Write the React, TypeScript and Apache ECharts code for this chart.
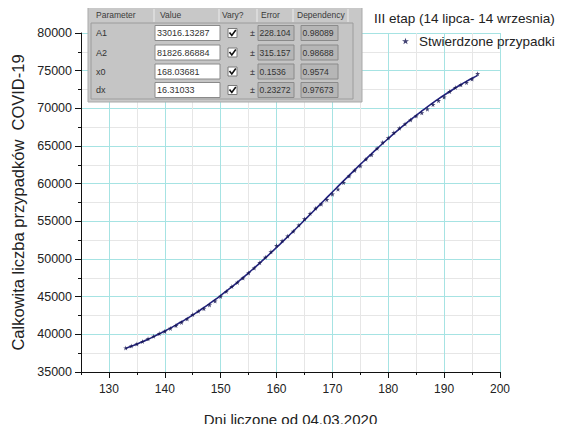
import React, { useEffect, useRef } from "react";
import * as echarts from "echarts";

const days = [
  133, 134, 135, 136, 137, 138, 139, 140, 141, 142, 143, 144, 145, 146, 147, 148,
  149, 150, 151, 152, 153, 154, 155, 156, 157, 158, 159, 160, 161, 162, 163, 164,
  165, 166, 167, 168, 169, 170, 171, 172, 173, 174, 175, 176, 177, 178, 179, 180,
  181, 182, 183, 184, 185, 186, 187, 188, 189, 190, 191, 192, 193, 194, 195, 196,
];

const cases = [
  38190, 38457, 38721, 39054, 39407, 39746, 40104, 40383, 40782, 41162, 41580, 42038, 42622, 43065, 43402, 43904,
  44416, 45031, 45688, 46346, 46894, 47469, 48149, 48789, 49515, 50230, 50950, 51791, 52410, 53032, 53676, 54487,
  55319, 56046, 56721, 57279, 57876, 58611, 59263, 60150, 61012, 61762, 62345, 63241, 63833, 64689, 65480, 66088,
  66775, 67372, 67922, 68450, 68981, 69398, 69888, 70497, 71015, 71500, 72223, 72766, 73120, 73424, 73888, 74600,
];

const fitted = [
  38117, 38404, 38705, 39020, 39351, 39696, 40058, 40436, 40829, 41240, 41668, 42113, 42576, 43056, 43554, 44069,
  44602, 45153, 45720, 46305, 46906, 47523, 48156, 48803, 49465, 50141, 50828, 51527, 52237, 52956, 53683, 54417,
  55156, 55900, 56646, 57394, 58142, 58889, 59632, 60372, 61106, 61834, 62553, 63264, 63964, 64652, 65329, 65991,
  66640, 67274, 67892, 68495, 69081, 69649, 70201, 70735, 71252, 71751, 72233, 72697, 73143, 73572, 73984, 74379,
];

const xMajorTicks = [130, 140, 150, 160, 170, 180, 190, 200];
const yMajorTicks = [35000, 40000, 45000, 50000, 55000, 60000, 65000, 70000, 75000, 80000];

const headers = ["Parameter", "Value", "Vary?", "Error", "Dependency"];
const paramNames = ["A1", "A2", "x0", "dx"];
const paramValues = ["33016.13287", "81826.86884", "168.03681", "16.31033"];
const paramErrors = ["228.10484", "315.15786", "0.1536", "0.23272"];
const paramDeps = ["0.98089", "0.98688", "0.9574", "0.97673"];

const titleText = "III etap (14 lipca- 14 wrzesnia)";
const seriesName = "Stwierdzone przypadki";
const xName = "Dni liczone od 04.03.2020";
const yName = "Calkowita liczba przypadków  COVID-19";

const FONT = "'Liberation Sans', Arial, sans-serif";
const STAR = "path://M50,0 L61,35 L98,35 L68,57 L79,91 L50,70 L21,91 L32,57 L2,35 L39,35 Z";
const CYAN = "#a6e3e3";
const MINOR = "#e6e6e6";

function buildTable(): any[] {
  const els: any[] = [];
  const Z = 100;
  els.push({
    type: "rect", z: Z,
    shape: { x: 88, y: 7, width: 274, height: 95 },
    style: { fill: "#c8c8c8", stroke: "#a9a9a9", lineWidth: 1 },
  });
  const headX = [96, 160, 222, 261, 297];
  headers.forEach((h, i) =>
    els.push({
      type: "text", z: Z + 1, x: headX[i], y: 15,
      style: { text: h, fill: "#3a3a3a", font: `8.5px ${FONT}`, textVerticalAlign: "middle" },
    })
  );
  [154, 219, 257, 293, 348].forEach((x) =>
    els.push({
      type: "line", z: Z + 1,
      shape: { x1: x, y1: 9, x2: x, y2: 22 },
      style: { stroke: "#ececec", lineWidth: 1 },
    })
  );
  els.push({
    type: "rect", z: Z + 1,
    shape: { x: 91, y: 23, width: 262, height: 76 },
    style: { fill: "#c5c5c5", stroke: "#9c9c9c", lineWidth: 1 },
  });
  const rowY = [33, 52.5, 71.5, 90];
  paramNames.forEach((n, i) => {
    const cy = rowY[i];
    els.push({
      type: "text", z: Z + 2, x: 96, y: cy,
      style: { text: n, fill: "#333", font: `9px ${FONT}`, textVerticalAlign: "middle" },
    });
    els.push({
      type: "rect", z: Z + 2,
      shape: { x: 155, y: cy - 7.5, width: 65, height: 15 },
      style: { fill: "#ffffff", stroke: "#8a8a8a", lineWidth: 1 },
    });
    els.push({
      type: "text", z: Z + 3, x: 157, y: cy,
      style: { text: paramValues[i], fill: "#333", font: `9px ${FONT}`, textVerticalAlign: "middle" },
    });
    els.push({
      type: "rect", z: Z + 2,
      shape: { x: 228, y: cy - 4.5, width: 9, height: 9 },
      style: { fill: "#ffffff", stroke: "#7a7a7a", lineWidth: 1 },
    });
    els.push({
      type: "polyline", z: Z + 3,
      shape: { points: [[229.5, cy - 0.5], [231.8, cy + 2.5], [235.8, cy - 3]] },
      style: { stroke: "#111", lineWidth: 1.6, fill: null },
    });
    els.push({
      type: "text", z: Z + 2, x: 250, y: cy,
      style: { text: "±", fill: "#333", font: `9px ${FONT}`, textVerticalAlign: "middle" },
    });
    els.push({
      type: "rect", z: Z + 2,
      shape: { x: 258, y: cy - 7.5, width: 36, height: 15 },
      style: { fill: "#b6b6b6", stroke: "#8a8a8a", lineWidth: 1 },
    });
    els.push({
      type: "text", z: Z + 3, x: 259.5, y: cy,
      style: {
        text: paramErrors[i], fill: "#333", font: `8.6px ${FONT}`, textVerticalAlign: "middle",
        width: 34, overflow: "truncate", ellipsis: "",
      },
    });
    els.push({
      type: "rect", z: Z + 2,
      shape: { x: 301, y: cy - 7.5, width: 37, height: 15 },
      style: { fill: "#b6b6b6", stroke: "#8a8a8a", lineWidth: 1 },
    });
    els.push({
      type: "text", z: Z + 3, x: 302.5, y: cy,
      style: { text: paramDeps[i], fill: "#333", font: `8.6px ${FONT}`, textVerticalAlign: "middle" },
    });
  });
  return els;
}

export default function App() {
  const ref = useRef<HTMLDivElement>(null);
  useEffect(() => {
    if (!ref.current) return;
    const chart = echarts.init(ref.current, undefined, { renderer: "svg" });
    const lineData = days.map((d, i) => [d, fitted[i]]);
    const pointData = days.map((d, i) => [d, cases[i]]);
    const axisColor = "#111";
    chart.setOption({
      animation: false,
      backgroundColor: "#ffffff",
      textStyle: { fontFamily: FONT },
      title: {
        text: titleText, left: 374, top: 11, padding: 0,
        textStyle: { fontSize: 13.5, fontWeight: "normal", color: "#222", fontFamily: FONT },
      },
      legend: {
        data: [{ name: seriesName, icon: STAR }],
        left: 402, top: 34, padding: 0,
        itemWidth: 7, itemHeight: 7, itemGap: 10,
        textStyle: { fontSize: 13.5, color: "#222", fontFamily: FONT, padding: [0, 0, 0, 5] },
      },
      grid: { left: 81, right: 66, top: 33, bottom: 57, containLabel: false },
      xAxis: [
        {
          type: "value", min: 125, max: 200, interval: 5, position: "bottom",
          name: xName, nameLocation: "middle", nameGap: 40,
          nameTextStyle: { fontSize: 15, color: "#222", fontFamily: FONT },
          axisLine: { show: true, lineStyle: { color: axisColor, width: 1 } },
          axisTick: { show: true, inside: false, length: 3, lineStyle: { color: axisColor } },
          axisLabel: {
            fontSize: 12, color: "#222", margin: 11, fontFamily: FONT,
            formatter: (v: number) => (v % 10 === 0 ? String(v) : ""),
          },
          splitLine: { show: true, lineStyle: { color: [MINOR, CYAN], width: 1 } },
        },
        {
          type: "value", min: 125, max: 200, position: "bottom",
          axisLine: { show: false },
          axisTick: { show: true, inside: false, length: 6, customValues: xMajorTicks, lineStyle: { color: axisColor } },
          axisLabel: { show: false },
          splitLine: { show: false },
        },
      ],
      yAxis: [
        {
          type: "value", min: 35000, max: 80000, interval: 2500, position: "left",
          name: yName, nameLocation: "middle", nameGap: 51,
          nameTextStyle: { fontSize: 16.5, color: "#222", fontFamily: FONT },
          axisLine: { show: true, lineStyle: { color: axisColor, width: 1 } },
          axisTick: { show: true, inside: false, length: 3, lineStyle: { color: axisColor } },
          axisLabel: {
            fontSize: 12.5, color: "#222", margin: 9, fontFamily: FONT,
            formatter: (v: number) => (v % 5000 === 0 ? String(v) : ""),
          },
          splitLine: { show: true, lineStyle: { color: [CYAN, MINOR], width: 1 } },
        },
        {
          type: "value", min: 35000, max: 80000, position: "left",
          axisLine: { show: false },
          axisTick: { show: true, inside: false, length: 6, customValues: yMajorTicks, lineStyle: { color: axisColor } },
          axisLabel: { show: false },
          splitLine: { show: false },
        },
      ],
      series: [
        {
          name: "Boltzmann fit", type: "line", data: lineData, smooth: true,
          showSymbol: false, symbol: "none",
          lineStyle: { color: "#23237e", width: 1.6 }, z: 2,
        },
        {
          name: seriesName, type: "scatter", data: pointData,
          symbol: STAR, symbolSize: 5,
          itemStyle: { color: "#12124e" }, z: 3,
        },
      ],
      graphic: { elements: buildTable() },
    });
    return () => chart.dispose();
  }, []);
  return <div ref={ref} style={{ width: 566, height: 432, margin: -8 }} />;
}
